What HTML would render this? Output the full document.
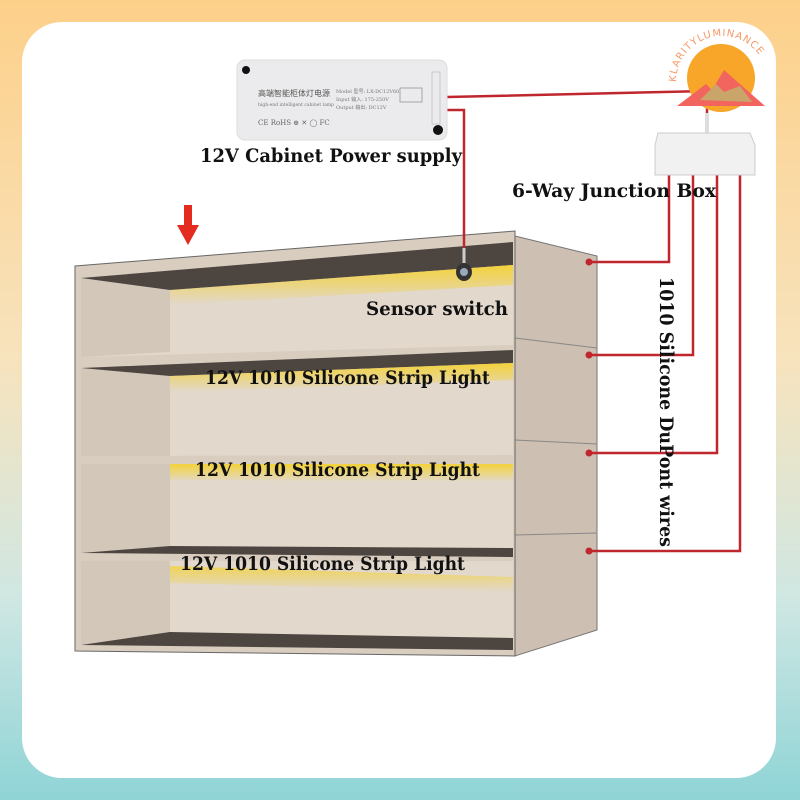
<!DOCTYPE html>
<html><head><meta charset="utf-8"><style>
html,body{margin:0;padding:0;width:800px;height:800px;overflow:hidden}
body{background:linear-gradient(180deg,#fdd08a 0%,#f7e3bd 45%,#cfe7e3 75%,#8fd4d6 100%)}
svg{display:block}
text{font-family:"DejaVu Serif","Liberation Serif",serif;font-weight:bold;fill:#111}
</style></head><body>
<svg width="800" height="800" viewBox="0 0 800 800">
<defs>
<linearGradient id="glow" x1="0" y1="0" x2="0" y2="1">
<stop offset="0" stop-color="#f3d23a"/><stop offset="1" stop-color="#f3d23a" stop-opacity="0"/>
</linearGradient>
</defs>
<rect x="22" y="22" width="754" height="756" rx="40" fill="#fff"/>
<!-- cabinet side -->
<polygon points="515,236 597,256 597,630 515,656" fill="#cdbfb1" stroke="#777" stroke-width="1"/>
<line x1="515" y1="338" x2="597" y2="348" stroke="#888"/>
<line x1="515" y1="440" x2="597" y2="444" stroke="#888"/>
<line x1="515" y1="535" x2="597" y2="533" stroke="#888"/>
<!-- front face -->
<polygon points="75,266 515,231 515,656 75,651" fill="#d9cdbf" stroke="#666" stroke-width="1"/>
<!-- row 1 -->
<polygon points="81,278 513,242 513,345 81,357" fill="#e2d8cc"/>
<polygon points="81,278 170,290 170,352 81,357" fill="#d3c7b9"/>
<polygon points="81,278 513,242 513,265 170,290" fill="#4d4640"/>
<polygon points="170,290 513,265 513,285 170,305" fill="url(#glow)"/>
<!-- row 2 -->
<polygon points="81,368 513,350 513,455 81,456" fill="#e2d8cc"/>
<polygon points="81,368 170,375 170,456 81,456" fill="#d3c7b9"/>
<polygon points="81,368 513,350 513,363 170,376" fill="#4d4640"/>
<polygon points="170,376 513,363 513,380 170,392" fill="url(#glow)"/>
<!-- row 3 -->
<polygon points="81,464 513,464 513,557 81,553" fill="#e2d8cc"/>
<polygon points="81,464 170,464 170,546 81,553" fill="#d3c7b9"/>
<polygon points="170,464 513,464 513,482 170,480" fill="url(#glow)"/>
<polygon points="81,553 170,546 513,548 513,557" fill="#4d4640"/>
<!-- row 4 -->
<polygon points="81,561 513,561 513,650 81,645" fill="#e2d8cc"/>
<polygon points="81,561 170,561 170,636 81,645" fill="#d3c7b9"/>
<polygon points="170,566 513,577 513,592 170,583" fill="url(#glow)" opacity="0.8"/>
<polygon points="81,645 170,632 513,638 513,650" fill="#4d4640"/>
<!-- sensor -->
<line x1="464" y1="248" x2="464" y2="265" stroke="#ccc" stroke-width="3"/>
<ellipse cx="464" cy="272" rx="8" ry="9" fill="#333"/>
<ellipse cx="464" cy="272" rx="4" ry="4" fill="#9ab"/>
<!-- red arrow -->
<rect x="184" y="205" width="8" height="22" fill="#e32b20"/>
<polygon points="177,225 199,225 188,245" fill="#e32b20"/>
<!-- wires -->
<g stroke="#c0262d" stroke-width="2.5" fill="none">
<polyline points="447,97 707,91 707,113"/>
<polyline points="447,110 464,110 464,248"/>
<polyline points="669,175 669,262 589,262"/>
<polyline points="693,175 693,355 589,355"/>
<polyline points="717,175 717,453 589,453"/>
<polyline points="740,175 740,551 589,551"/>
</g>
<g fill="#c0262d"><circle cx="589" cy="262" r="3.5"/><circle cx="589" cy="355" r="3.5"/><circle cx="589" cy="453" r="3.5"/><circle cx="589" cy="551" r="3.5"/></g>
<!-- logo -->
<circle cx="721" cy="78" r="34" fill="#f7a62a"/>
<polygon points="677,106 706,84 712,90 724,70 765,106" fill="#f2655e"/>
<polygon points="700,100 716,84 724,92 740,86 752,102" fill="#c9a56a"/>
<path id="arc" d="M676,82 A46,46 0 0 1 768,82" fill="none"/>
<text font-size="10" style="font-family:'DejaVu Sans',sans-serif;font-weight:normal;fill:#f59a6a;letter-spacing:1px"><textPath href="#arc">KLARITYLUMINANCE</textPath></text>
<rect x="705" y="113" width="4" height="20" fill="#ddd"/>
<!-- junction box -->
<polygon points="658,133 750,133 755,145 755,175 655,175 655,145" fill="#f1f1f1" stroke="#ccc"/>
<!-- power supply -->
<rect x="237" y="60" width="210" height="80" rx="8" fill="#ebebed" stroke="#ddd"/>
<circle cx="246" cy="70" r="4" fill="#111"/><circle cx="438" cy="130" r="5" fill="#111"/>
<text x="258" y="96" font-size="8" style="font-family:'Noto Sans CJK SC',sans-serif;font-weight:normal;fill:#555">高端智能柜体灯电源</text>
<text x="258" y="106" font-size="4.5" style="font-weight:normal;fill:#777">high-end intelligent cabinet lamp</text>
<text x="336" y="93" font-size="5" style="font-weight:normal;fill:#777">Model 型号: LX-DC12V60</text>
<text x="336" y="101" font-size="5" style="font-weight:normal;fill:#777">Input 输入: 175-250V</text>
<text x="336" y="109" font-size="5" style="font-weight:normal;fill:#777">Output 输出: DC12V</text>
<text x="258" y="125" font-size="7" style="font-weight:normal;fill:#666">CE RoHS ⊕ ✕ ◯ FC</text>
<rect x="400" y="88" width="22" height="14" fill="none" stroke="#888" stroke-width="0.7"/>
<rect x="432" y="72" width="8" height="52" fill="none" stroke="#bbb" stroke-width="0.7"/>
<!-- labels -->
<text x="200" y="162" font-size="19" textLength="262" lengthAdjust="spacingAndGlyphs">12V Cabinet Power supply</text>
<text x="512" y="197" font-size="19" textLength="204" lengthAdjust="spacingAndGlyphs">6-Way Junction Box</text>
<text x="366" y="315" font-size="19" textLength="142" lengthAdjust="spacingAndGlyphs">Sensor switch</text>
<text x="205" y="384" font-size="19" textLength="285" lengthAdjust="spacingAndGlyphs">12V 1010 Silicone Strip Light</text>
<text x="195" y="476" font-size="19" textLength="285" lengthAdjust="spacingAndGlyphs">12V 1010 Silicone Strip Light</text>
<text x="180" y="570" font-size="19" textLength="285" lengthAdjust="spacingAndGlyphs">12V 1010 Silicone Strip Light</text>
<text transform="translate(660,277) rotate(90)" font-size="19" textLength="270" lengthAdjust="spacingAndGlyphs">1010 Silicone DuPont wires</text>
</svg>
</body></html>
